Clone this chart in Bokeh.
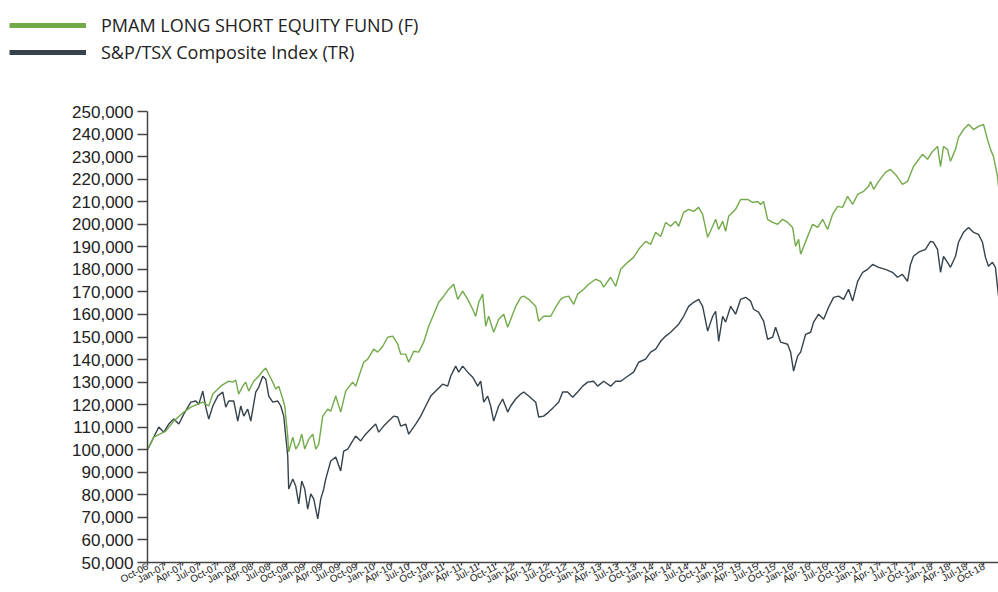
from bokeh.plotting import figure
from bokeh.layouts import column
from bokeh.models import (FixedTicker, NumeralTickFormatter, Legend, LegendItem, ColumnDataSource)
from bokeh.embed import file_html
from bokeh.resources import INLINE

# ---------------- data (decimal year, value) ----------------
fund_t = [2006.750, 2006.840, 2007.012, 2007.127, 2007.271, 2007.371, 2007.543, 2007.629, 2007.687, 2007.801,
          2007.844, 2007.916, 2007.973, 2008.016, 2008.059, 2008.117, 2008.159, 2008.202, 2008.274, 2008.346,
          2008.404, 2008.447, 2008.490, 2008.547, 2008.590, 2008.633, 2008.691, 2008.719, 2008.762, 2008.776,
          2008.834, 2008.877, 2008.920, 2008.963, 2009.006, 2009.063, 2009.121, 2009.164, 2009.207, 2009.264,
          2009.336, 2009.379, 2009.451, 2009.522, 2009.594, 2009.694, 2009.737, 2009.809, 2009.852, 2009.910,
          2009.996, 2010.053, 2010.125, 2010.197, 2010.268, 2010.340, 2010.383, 2010.455, 2010.498, 2010.570,
          2010.641, 2010.713, 2010.785, 2010.857, 2010.928, 2011.000, 2011.072, 2011.143, 2011.201, 2011.272,
          2011.344, 2011.416, 2011.459, 2011.502, 2011.559, 2011.602, 2011.645, 2011.717, 2011.789, 2011.861,
          2011.918, 2011.990, 2012.033, 2012.105, 2012.148, 2012.219, 2012.320, 2012.363, 2012.434, 2012.535,
          2012.606, 2012.678, 2012.721, 2012.793, 2012.865, 2012.922, 2013.008, 2013.080, 2013.180, 2013.252,
          2013.295, 2013.395, 2013.467, 2013.539, 2013.639, 2013.725, 2013.797, 2013.897, 2013.969, 2014.041,
          2014.113, 2014.185, 2014.256, 2014.328, 2014.371, 2014.443, 2014.514, 2014.586, 2014.658, 2014.715,
          2014.787, 2014.859, 2014.902, 2014.945, 2015.002, 2015.045, 2015.088, 2015.188, 2015.260, 2015.360,
          2015.432, 2015.504, 2015.547, 2015.590, 2015.647, 2015.719, 2015.791, 2015.862, 2015.934, 2016.006,
          2016.049, 2016.092, 2016.121, 2016.193, 2016.293, 2016.365, 2016.437, 2016.508, 2016.580, 2016.652,
          2016.723, 2016.795, 2016.867, 2016.939, 2017.025, 2017.097, 2017.124, 2017.168, 2017.240, 2017.338,
          2017.410, 2017.482, 2017.582, 2017.654, 2017.740, 2017.869, 2017.941, 2018.013, 2018.085, 2018.128,
          2018.171, 2018.228, 2018.271, 2018.343, 2018.386, 2018.458, 2018.530, 2018.601, 2018.673, 2018.745,
          2018.802, 2018.845, 2018.888, 2018.945, 2018.960]
fund_v = [100000, 105600, 108300, 112700, 116700, 118900, 121100, 119400, 124700, 128200,
          129100, 130400, 130000, 130900, 124700, 128200, 130000, 126000, 130400, 132600,
          134900, 136200, 133500, 130000, 126900, 128200, 122500, 119400, 106100, 99000,
          105600, 100300, 102500, 106900, 100300, 104700, 106900, 100300, 102500, 114900,
          118000, 117100, 123800, 116700, 126000, 130000, 128200, 134900, 138800, 140200,
          144600, 143300, 145900, 149900, 150400, 146800, 142400, 142400, 138800, 143700,
          143300, 147700, 154800, 160100, 165400, 168100, 171200, 173400, 166700, 170300,
          166700, 162300, 159200, 165400, 169000, 154800, 159200, 152100, 157900, 160100,
          154300, 160100, 163600, 167600, 168100, 166700, 163600, 157000, 159200, 159200,
          163200, 166700, 167600, 168100, 164500, 169000, 171200, 173400, 175600, 174700,
          172100, 176500, 172500, 180000, 183100, 185300, 188900, 192400, 191100, 196400,
          194600, 200800, 199100, 201300, 199100, 205300, 206600, 205700, 207500, 204400,
          194200, 199100, 202200, 197700, 201300, 196900, 203500, 206600, 211000, 211000,
          209700, 210100, 208800, 210100, 202200, 200800, 200000, 202200, 200800, 198600,
          190200, 193300, 186700, 192400, 200000, 198600, 202200, 197700, 204400, 207900,
          207500, 212400, 208800, 213200, 214600, 216800, 219000, 215500, 219000, 223000,
          224300, 222100, 217700, 219000, 225600, 231000, 228800, 232300, 234500, 225600,
          234500, 233200, 227900, 233200, 238500, 242000, 244300, 242000, 243400, 244300,
          237600, 233200, 230100, 221200, 216800]

index_t = [2006.750, 2006.826, 2006.912, 2006.984, 2007.055, 2007.127, 2007.199, 2007.271, 2007.371, 2007.443,
           2007.486, 2007.543, 2007.586, 2007.629, 2007.687, 2007.758, 2007.830, 2007.873, 2007.916, 2007.988,
           2008.045, 2008.088, 2008.131, 2008.188, 2008.232, 2008.303, 2008.346, 2008.404, 2008.447, 2008.490,
           2008.547, 2008.619, 2008.662, 2008.705, 2008.762, 2008.776, 2008.834, 2008.877, 2008.920, 2008.963,
           2009.006, 2009.049, 2009.092, 2009.135, 2009.193, 2009.236, 2009.279, 2009.307, 2009.379, 2009.451,
           2009.522, 2009.565, 2009.623, 2009.694, 2009.737, 2009.809, 2009.880, 2009.952, 2010.024, 2010.067,
           2010.139, 2010.210, 2010.282, 2010.340, 2010.383, 2010.455, 2010.498, 2010.598, 2010.670, 2010.742,
           2010.814, 2010.914, 2010.986, 2011.057, 2011.100, 2011.172, 2011.215, 2011.272, 2011.344, 2011.416,
           2011.488, 2011.531, 2011.574, 2011.631, 2011.674, 2011.717, 2011.789, 2011.846, 2011.918, 2011.961,
           2012.033, 2012.105, 2012.148, 2012.219, 2012.320, 2012.363, 2012.434, 2012.506, 2012.578, 2012.649,
           2012.707, 2012.778, 2012.850, 2012.922, 2012.994, 2013.065, 2013.151, 2013.209, 2013.295, 2013.395,
           2013.467, 2013.539, 2013.639, 2013.725, 2013.797, 2013.897, 2013.969, 2014.041, 2014.113, 2014.185,
           2014.256, 2014.328, 2014.371, 2014.443, 2014.514, 2014.586, 2014.658, 2014.715, 2014.787, 2014.859,
           2014.902, 2014.945, 2015.002, 2015.045, 2015.117, 2015.188, 2015.260, 2015.332, 2015.404, 2015.447,
           2015.518, 2015.590, 2015.647, 2015.719, 2015.762, 2015.834, 2015.934, 2015.977, 2016.020, 2016.078,
           2016.121, 2016.193, 2016.264, 2016.307, 2016.379, 2016.451, 2016.522, 2016.594, 2016.666, 2016.737,
           2016.809, 2016.867, 2016.939, 2017.011, 2017.082, 2017.154, 2017.240, 2017.338, 2017.439, 2017.511,
           2017.582, 2017.654, 2017.697, 2017.740, 2017.812, 2017.912, 2017.984, 2018.027, 2018.085, 2018.128,
           2018.171, 2018.228, 2018.271, 2018.343, 2018.386, 2018.458, 2018.530, 2018.601, 2018.673, 2018.730,
           2018.773, 2018.816, 2018.873, 2018.916, 2018.960]
index_v = [100000, 104700, 110100, 107800, 111400, 113600, 111400, 115800, 121100, 121600,
           120200, 126000, 118900, 113600, 119400, 123800, 125600, 118900, 121600, 121600,
           112700, 119400, 114900, 118000, 112700, 125600, 127800, 132600, 131300, 123800,
           121100, 121600, 119400, 114900, 97200, 82600, 87000, 83900, 76000, 86100,
           82600, 73700, 80400, 78200, 69300, 78200, 82600, 87000, 95000, 96800,
           90600, 99400, 100300, 103900, 106100, 103900, 106900, 109200, 111400, 107800,
           110500, 112700, 114900, 114500, 110500, 111400, 106900, 111400, 114900, 119400,
           123800, 126900, 129100, 128200, 132600, 137100, 134400, 137100, 134400, 132200,
           128200, 130400, 121100, 123800, 119400, 112700, 119400, 122500, 116700, 119400,
           122500, 124700, 125600, 123800, 121100, 114500, 114900, 116700, 118900, 121100,
           125600, 125600, 123300, 125600, 128200, 130000, 130400, 128200, 130400, 128200,
           130400, 130400, 132600, 134400, 138800, 140200, 143300, 144600, 148100, 150400,
           152100, 154300, 155700, 159200, 163600, 165400, 166700, 163600, 152600, 159200,
           161400, 148100, 159200, 156600, 163600, 160100, 166700, 167600, 165900, 162300,
           161000, 157000, 149000, 149900, 154300, 147700, 146800, 143300, 134900, 141500,
           143300, 151200, 152100, 156600, 160100, 157900, 163200, 167600, 168100, 166700,
           171200, 165900, 174700, 178700, 180000, 182200, 180900, 180000, 178700, 176500,
           177800, 174700, 182200, 185800, 187600, 188900, 192400, 192000, 188900, 178700,
           185800, 183100, 180900, 185800, 192000, 196400, 198600, 196400, 195500, 192000,
           185300, 181400, 183100, 180900, 168100]

series_names = ["PMAM LONG SHORT EQUITY FUND (F)", "S&P/TSX Composite Index (TR)"]
series_colors = ["#72AA4A", "#36424B"]

tick_years = [2006.75 + 0.25 * k for k in range(50)]
tick_labels = ["Oct-06",
               "Jan-07", "Apr-07", "Jul-07", "Oct-07", "Jan-08", "Apr-08", "Jul-08", "Oct-08",
               "Jan-09", "Apr-09", "Jul-09", "Oct-09", "Jan-10", "Apr-10", "Jul-10", "Oct-10",
               "Jan-11", "Apr-11", "Jul-11", "Oct-11", "Jan-12", "Apr-12", "Jul-12", "Oct-12",
               "Jan-13", "Apr-13", "Jul-13", "Oct-13", "Jan-14", "Apr-14", "Jul-14", "Oct-14",
               "Jan-15", "Apr-15", "Jul-15", "Oct-15", "Jan-16", "Apr-16", "Jul-16", "Oct-16",
               "Jan-17", "Apr-17", "Jul-17", "Oct-17", "Jan-18", "Apr-18", "Jul-18", "Oct-18",
               "Jan-19"]
y_ticks = list(range(50000, 250001, 10000))

LEG_H = 70
NAN = float("nan")

# ---------------- legend strip ----------------
lf = figure(width=998, height=LEG_H, output_backend="svg", toolbar_location=None,
            x_range=(0, 1), y_range=(0, 1), x_axis_location=None, y_axis_location=None,
            min_border_left=0, min_border_right=0, min_border_top=0, min_border_bottom=0)
lf.outline_line_color = None
lf.grid.visible = False
leg_f = lf.line(x=[NAN], y=[NAN], line_color=series_colors[0], line_width=5)
leg_i = lf.line(x=[NAN], y=[NAN], line_color=series_colors[1], line_width=5)
legend = Legend(items=[LegendItem(label=series_names[0], renderers=[leg_f]),
                       LegendItem(label=series_names[1], renderers=[leg_i])],
                location=(9, 6), orientation="vertical",
                glyph_width=77, glyph_height=20, label_height=20, label_standoff=15,
                spacing=3, padding=0, margin=0,
                border_line_color=None, background_fill_alpha=0,
                label_text_font="Open Sans", label_text_font_size="18px",
                label_text_color="#222222")
lf.add_layout(legend)

# ---------------- main chart ----------------
p = figure(width=998, height=592 - LEG_H, output_backend="svg", toolbar_location=None,
           x_range=(2006.75, 2018.96), y_range=(50000, 250000),
           min_border_left=147, min_border_right=0, min_border_top=111 - LEG_H, min_border_bottom=29)
p.outline_line_color = None
p.grid.visible = False
p.background_fill_color = "white"

for fig in (lf, p):
    if "frame_align" in fig.properties():
        fig.frame_align = False

src_f = ColumnDataSource(dict(t=fund_t, v=fund_v))
src_i = ColumnDataSource(dict(t=index_t, v=index_v))
p.line("t", "v", source=src_i, line_color=series_colors[1], line_width=1.4)
p.line("t", "v", source=src_f, line_color=series_colors[0], line_width=1.4)

ya = p.yaxis[0]
ya.ticker = FixedTicker(ticks=y_ticks)
ya.formatter = NumeralTickFormatter(format="0,0")
ya.major_label_text_font = "Liberation Sans"
ya.major_label_text_font_size = "17px"
ya.major_label_text_color = "#222222"
ya.major_tick_out = 10
ya.major_tick_in = 0
ya.minor_tick_line_color = None
ya.major_label_standoff = 4
ya.axis_line_color = "#444444"
ya.axis_line_width = 1.5
ya.major_tick_line_color = "#444444"
ya.major_tick_line_width = 1.5

xa = p.xaxis[0]
xa.ticker = FixedTicker(ticks=tick_years)
xa.major_label_overrides = {t: lab for t, lab in zip(tick_years, tick_labels)}
xa.major_label_orientation = 0.5
xa.major_label_text_font = "Liberation Sans"
xa.major_label_text_font_size = "10px"
xa.major_label_text_color = "#222222"
xa.major_label_standoff = 0
xa.major_tick_out = 3
xa.major_tick_in = 0
xa.minor_tick_line_color = None
xa.axis_line_color = "#444444"
xa.axis_line_width = 1.5
xa.major_tick_line_color = "#444444"
xa.major_tick_line_width = 1.5

layout = column(lf, p, spacing=0)
open("out.html", "w").write(file_html(layout, INLINE))
